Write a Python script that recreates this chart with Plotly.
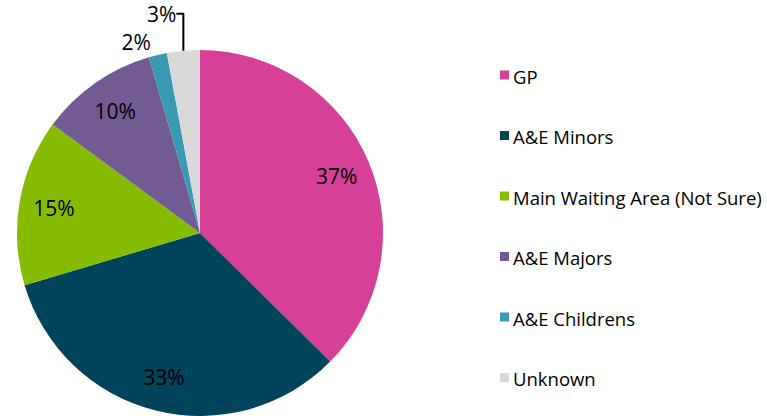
import plotly.graph_objects as go

categories = ["GP", "A&E Minors", "Main Waiting Area (Not Sure)", "A&E Majors", "A&E Childrens", "Unknown"]
values = [37.4, 33.0, 14.7, 10.4, 1.6, 2.9]
colors = ["#D64097", "#00445C", "#86BC00", "#725A92", "#3A9AB2", "#D9D9D9"]
text_positions = ["inside", "inside", "inside", "inside", "outside", "outside"]

W, H = 767, 416
FONT = "Open Sans"
domain = dict(x=[17 / W, 383 / W], y=[0, 366 / H])

fig = go.Figure()
# coloured pie
fig.add_trace(go.Pie(
    labels=categories,
    values=values,
    sort=False,
    direction="clockwise",
    rotation=0,
    marker=dict(colors=colors, line=dict(width=0)),
    textinfo="none",
    domain=domain,
    automargin=False,
    showlegend=False,
    hoverinfo="label+percent",
))
# transparent ring on top, used only to place the percentage labels at ~0.8 R
fig.add_trace(go.Pie(
    labels=categories,
    values=values,
    sort=False,
    direction="clockwise",
    rotation=0,
    hole=0.62,
    marker=dict(colors=["rgba(0,0,0,0)"] * len(values), line=dict(width=0)),
    texttemplate="%{percent:.0%}",
    textposition=text_positions,
    insidetextorientation="horizontal",
    textfont=dict(family=FONT, size=21, color="#000000"),
    outsidetextfont=dict(family=FONT, size=21, color="#000000"),
    domain=domain,
    automargin=False,
    showlegend=False,
    hoverinfo="skip",
))

# custom legend built from the category/colour lists
legend_top = 75
legend_step = 60.5
for i, (cat, col) in enumerate(zip(categories, colors)):
    yc = legend_top + i * legend_step
    fig.add_shape(type="rect", xref="paper", yref="paper",
                  x0=500 / W, x1=509 / W,
                  y0=1 - (yc + 4.5) / H, y1=1 - (yc - 4.5) / H,
                  fillcolor=col, line=dict(width=0))
    fig.add_annotation(xref="paper", yref="paper", x=511 / W, y=1 - (yc + 1) / H,
                       text=cat, showarrow=False, xanchor="left", yanchor="middle",
                       font=dict(family=FONT, size=18.5, color="#000000"))

fig.update_layout(
    width=W, height=H,
    margin=dict(l=0, r=0, t=0, b=0, autoexpand=False),
    paper_bgcolor="white", plot_bgcolor="white",
    font=dict(family=FONT),
)

fig.write_html("out.html", post_script="document.body.style.margin='0';",
               config={"displayModeBar": False})
